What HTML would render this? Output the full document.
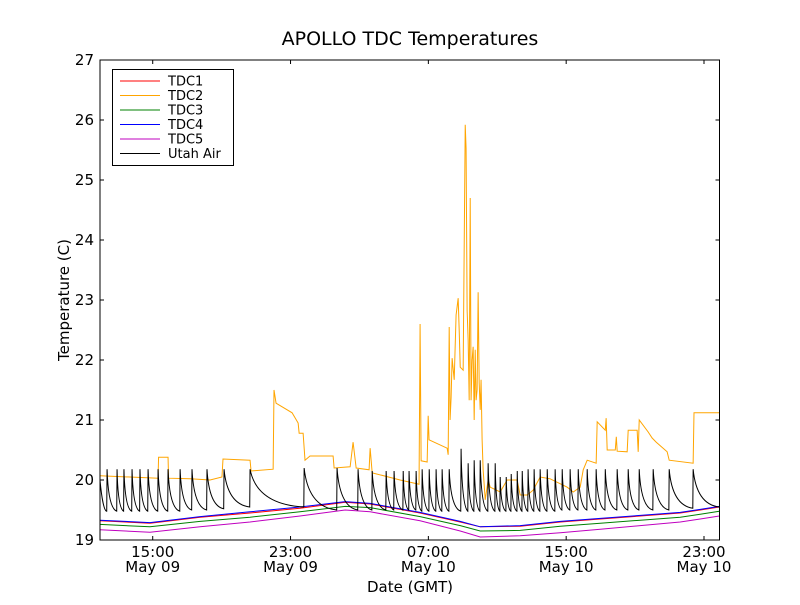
<!DOCTYPE html>
<html><head><meta charset="utf-8"><style>
body{margin:0;background:#fff;}
svg text{font-family:"DejaVu Sans","Liberation Sans",sans-serif;fill:#000;}
</style></head><body>
<svg id="chart" width="800" height="600" xmlns="http://www.w3.org/2000/svg">
<rect width="800" height="600" fill="#fff"/>
<text x="410" y="45" font-size="19" text-anchor="middle">APOLLO TDC Temperatures</text>
<g id="series"></g>
<rect x="100" y="60" width="619.5" height="480" fill="none" stroke="#000" stroke-width="1"/>
<g id="axes"></g>
<text x="410" y="592" font-size="15" text-anchor="middle">Date (GMT)</text>
<text x="0" y="0" font-size="15" text-anchor="middle" transform="translate(69,300) rotate(-90)">Temperature (C)</text>
<g>
<rect x="112.5" y="69.5" width="121" height="96" fill="#fff" stroke="#000"/>
<g id="legend-items"></g>
</g>
</svg>
<script>
// time in hours from May 09 00:00
const xTickHours = [15, 23, 31, 39, 47];
const xTickTimes = ["15:00", "23:00", "07:00", "15:00", "23:00"];
const xTickDates = ["May 09", "May 09", "May 10", "May 10", "May 10"];
const yTicks = [19, 20, 21, 22, 23, 24, 25, 26, 27];

const tdcTimes = [11.94,14.84,17.75,20.65,23.55,26.17,27.62,30.52,32.85,34.01,36.33,38.66,40.98,43.30,45.62,46.78,47.89];
const tdc1 = [19.32,19.28,19.38,19.45,19.53,19.63,19.60,19.45,19.30,19.22,19.23,19.30,19.35,19.40,19.45,19.50,19.55];
const tdc4 = [19.33,19.29,19.39,19.47,19.55,19.64,19.61,19.46,19.31,19.22,19.24,19.31,19.36,19.41,19.46,19.51,19.56];
const tdc3 = [19.26,19.22,19.31,19.38,19.47,19.56,19.54,19.39,19.24,19.15,19.16,19.23,19.28,19.33,19.38,19.43,19.48];
const tdc5 = [19.17,19.13,19.22,19.30,19.40,19.50,19.47,19.32,19.15,19.05,19.07,19.12,19.18,19.24,19.30,19.35,19.40];

const tdc2Times = [11.94,15.31,15.34,15.89,15.92,17.17,18.33,19.02,19.08,20.65,20.71,21.99,22.04,22.16,23.09,23.44,23.50,23.73,23.84,24.13,25.47,25.53,26.46,26.63,26.81,27.56,27.62,27.74,29.36,30.46,30.52,30.58,30.93,30.99,31.04,32.09,32.15,32.21,32.26,32.32,32.38,32.50,32.61,32.73,32.79,32.85,33.02,33.14,33.19,33.25,33.31,33.37,33.43,33.48,33.54,33.60,33.66,33.72,33.77,33.83,33.89,33.95,34.01,34.06,34.12,34.18,34.30,34.47,34.59,35.17,35.57,36.15,36.33,36.74,37.08,37.49,38.07,39.06,39.41,39.81,39.99,40.22,40.74,40.80,41.27,41.32,41.38,41.85,41.91,41.96,42.54,42.60,43.12,43.18,43.24,43.76,43.99,44.23,44.86,44.98,46.37,46.42,47.89];
const tdc2 = [20.07,20.03,20.38,20.38,20.03,20.02,20.00,20.05,20.35,20.33,20.15,20.18,21.50,21.28,21.12,20.95,20.78,20.78,20.33,20.40,20.40,20.20,20.22,20.63,20.20,20.17,20.53,20.12,20.00,19.93,22.60,20.32,20.30,21.07,20.67,20.53,20.42,22.55,21.00,21.37,22.03,21.67,22.75,23.03,22.50,21.88,21.83,25.92,25.53,22.83,22.33,21.33,24.70,21.33,22.00,22.22,21.00,22.17,21.33,21.50,23.13,21.62,21.17,21.67,20.67,20.17,19.67,20.00,19.88,19.80,20.00,20.00,19.75,19.75,19.83,20.05,20.02,19.88,19.80,19.88,20.17,20.33,20.28,20.97,20.83,21.03,20.50,20.50,20.72,20.48,20.47,20.83,20.83,20.47,21.00,20.80,20.70,20.63,20.47,20.33,20.28,21.12,21.12];

const airStart = [11.94, 20.00];
const airSpikeTimes = [12.35,12.93,13.33,13.80,14.26,14.73,15.31,15.89,16.59,17.28,18.15,19.14,20.65,23.79,25.70,26.92,27.74,28.55,29.01,29.54,29.88,30.29,30.64,31.05,31.45,31.80,32.21,32.90,33.31,33.66,34.01,34.47,34.88,35.17,35.52,35.81,36.16,36.45,36.79,37.14,37.49,37.90,38.36,38.77,39.23,39.70,40.22,40.74,41.27,41.96,42.60,43.24,44.05,44.98,46.37];
const airPeaks = [20.18,20.18,20.18,20.18,20.18,20.18,20.18,20.18,20.18,20.18,20.18,20.18,20.18,20.20,20.20,20.18,20.15,20.15,20.15,20.15,20.15,20.15,20.18,20.18,20.18,20.18,20.18,20.52,20.28,20.33,20.33,20.28,20.28,20.05,20.05,20.10,20.15,20.15,20.18,20.18,20.18,20.18,20.18,20.18,20.18,20.18,20.18,20.18,20.18,20.18,20.18,20.18,20.18,20.18,20.18];
const airTroughs = [19.48,19.48,19.48,19.48,19.48,19.48,19.48,19.48,19.50,19.50,19.52,19.55,19.55,19.50,19.50,19.50,19.50,19.50,19.50,19.50,19.50,19.48,19.48,19.48,19.48,19.48,19.48,19.48,19.48,19.48,19.48,19.48,19.48,19.48,19.48,19.48,19.48,19.48,19.48,19.48,19.48,19.48,19.50,19.50,19.50,19.50,19.50,19.50,19.50,19.50,19.50,19.50,19.50,19.53,19.55];

const X0=100, X1=719.5, Y0=540, Y1=60;
const tMin=11.94, tMax=47.9;
function xs(t){return X0+(t-tMin)/(tMax-tMin)*(X1-X0);}
function ys(v){return Y0-(v-19)/(27-19)*(Y0-Y1);}
const NS="http://www.w3.org/2000/svg";
const series=document.getElementById('series');
const axes=document.getElementById('axes');

function line(times, vals, color, name){
  const p=document.createElementNS(NS,'path');
  let d='';
  for(let i=0;i<times.length;i++){d+=(i?'L':'M')+xs(times[i]).toFixed(2)+' '+ys(vals[i]).toFixed(2);}
  p.setAttribute('d',d);p.setAttribute('fill','none');p.setAttribute('stroke',color);p.setAttribute('stroke-width','1');
  
  
  series.appendChild(p);
}
line(tdcTimes,tdc5,'#bf00bf','tdc5-line');
line(tdcTimes,tdc3,'#008000','tdc3-line');
line(tdcTimes,tdc1,'#ff0000','tdc1-line');
line(tdcTimes,tdc4,'#0000ff','tdc4-line');
line(tdc2Times,tdc2,'#ffa500','tdc2-line');

// Utah Air sawtooth
(function(){
  let d='M'+xs(airStart[0])+' '+ys(airStart[1]);
  const first=airSpikeTimes[0];
  d+='C'+xs(airStart[0]+0.1)+' '+ys(airTroughs[0]+0.2)+' '+xs(airStart[0]+0.25)+' '+ys(airTroughs[0])+' '+xs(first-0.02)+' '+ys(airTroughs[0]);
  for(let i=0;i<airSpikeTimes.length;i++){
    const t0=airSpikeTimes[i];
    const t1=(i+1<airSpikeTimes.length)?airSpikeTimes[i+1]:tMax;
    const tr=airTroughs[i];
    const amp=airPeaks[i]-tr;
    d+='L'+xs(t0)+' '+ys(airPeaks[i]);
    const dt=t1-t0;
    d+='C'+xs(t0+0.08*dt)+' '+ys(tr+amp*0.4)+' '+xs(t0+0.4*dt)+' '+ys(tr+amp*0.05)+' '+xs(t1-0.02)+' '+ys(tr);
  }
  const p=document.createElementNS(NS,'path');
  p.setAttribute('d',d);p.setAttribute('fill','none');p.setAttribute('stroke','#000');p.setAttribute('stroke-width','1');
  
  
  series.appendChild(p);
})();

// ticks
yTicks.forEach(v=>{
  const y=ys(v);
  const t=document.createElementNS(NS,'path');
  t.setAttribute('d','M100 '+y+'h4M719.5 '+y+'h-4');t.setAttribute('stroke','#000');
  
  
  axes.appendChild(t);
  const l=document.createElementNS(NS,'text');
  l.setAttribute('x',94);l.setAttribute('y',y+5);l.setAttribute('font-size','15');l.setAttribute('text-anchor','end');
  l.textContent=v;
  
  
  axes.appendChild(l);
});
xTickHours.forEach((h,i)=>{
  const x=xs(h);
  const t=document.createElementNS(NS,'path');
  t.setAttribute('d','M'+x+' 540v-4M'+x+' 60v4');t.setAttribute('stroke','#000');
  
  
  axes.appendChild(t);
  [[xTickTimes[i],557],[xTickDates[i],572]].forEach(([s,y])=>{
    const l=document.createElementNS(NS,'text');
    l.setAttribute('x',x);l.setAttribute('y',y);l.setAttribute('font-size','15');l.setAttribute('text-anchor','middle');
    l.textContent=s;
    
    
    axes.appendChild(l);
  });
});

// legend
const legNames=["TDC1","TDC2","TDC3","TDC4","TDC5","Utah Air"];
const legColors=["#ff0000","#ffa500","#008000","#0000ff","#bf00bf","#000000"];
const li=document.getElementById('legend-items');
legNames.forEach((n,i)=>{
  const y=81+i*14.5;
  const g=document.createElementNS(NS,'g');
  
  
  const ln=document.createElementNS(NS,'line');
  ln.setAttribute('x1',120);ln.setAttribute('x2',160);ln.setAttribute('y1',y);ln.setAttribute('y2',y);ln.setAttribute('stroke',legColors[i]);
  g.appendChild(ln);
  const tx=document.createElementNS(NS,'text');
  tx.setAttribute('x',168);tx.setAttribute('y',y+4.5);tx.setAttribute('font-size','13');tx.textContent=n;
  g.appendChild(tx);
  li.appendChild(g);
});
</script>
</body></html>
